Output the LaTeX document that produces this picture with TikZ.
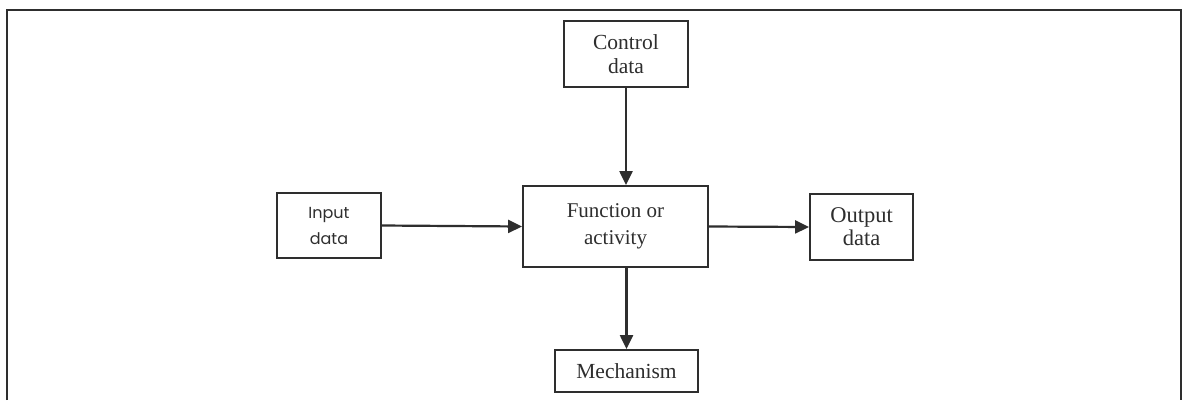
\documentclass[tikz,border=0pt]{standalone}
\usepackage{fontspec}
\setmainfont{Liberation Serif}
\newfontfamily\geofont{Poppins}
\usetikzlibrary{arrows.meta}
\definecolor{ink}{HTML}{2E2E2E}
\begin{document}
\begin{tikzpicture}[x=1pt,y=-1pt,
  blockbox/.style={draw=ink,line width=1.8pt,text=ink,align=center,inner sep=0pt,
    font=\fontsize{21}{27}\selectfont},
  flow/.style={draw=ink,line width=2.2pt,-{Triangle[length=14pt,width=13pt]}}]
\useasboundingbox (0,0) rectangle (1184,400);
\fill[white] (0,0) rectangle (1184,400);
\draw[ink,line width=1.8pt] (7,400) -- (7,10) -- (1181,10) -- (1181,400);
\node[blockbox,minimum width=104pt,minimum height=65pt,
  font=\geofont\fontsize{16}{26}\selectfont] (input) at (329,225.5) {Input\\data};
\node[blockbox,minimum width=185pt,minimum height=81pt] (func) at (615.5,226.5) {Function or\\activity};
\node[blockbox,minimum width=124pt,minimum height=66pt,
  font=\fontsize{21.5}{24}\selectfont] (control) at (626,54) {Control\\data};
\node[blockbox,minimum width=143pt,minimum height=42pt,
  font=\fontsize{21.5}{24}\selectfont] (mech) at (626.5,371) {Mechanism};
\node[blockbox,minimum width=103pt,minimum height=66pt,
  font=\fontsize{22.5}{23}\selectfont] (output) at (861.5,227) {Output\\data};
\draw[flow] (control.south) -- (control.south |- func.north);
\draw[flow] (input.east) -- (func.west);
\draw[flow] (func.east) -- (output.west);
\draw[flow] (func.south -| mech.north) -- (mech.north);
\end{tikzpicture}
\end{document}
